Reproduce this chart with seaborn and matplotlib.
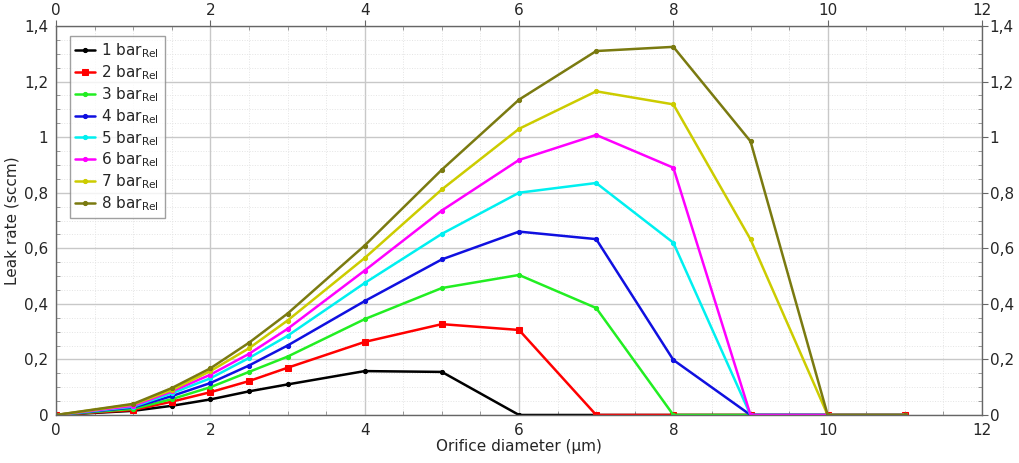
import numpy as np
import pandas as pd
import matplotlib
matplotlib.use("Agg")
import matplotlib.pyplot as plt
from matplotlib.ticker import MultipleLocator, FuncFormatter
import seaborn as sns

diameter = [0, 1, 1.5, 2, 2.5, 3, 4, 5, 6, 7, 8, 9, 10, 11]
bar1 = [0, 0.015, 0.033, 0.056, 0.085, 0.110, 0.158, 0.155, 0, 0, 0, 0, 0, 0]
bar2 = [0, 0.018, 0.048, 0.082, 0.122, 0.170, 0.263, 0.327, 0.306, 0, 0, 0, 0, 0]
bar3 = [0, 0.022, 0.057, 0.100, 0.155, 0.210, 0.345, 0.457, 0.504, 0.385, 0, 0, 0, 0]
bar4 = [0, 0.027, 0.068, 0.115, 0.178, 0.250, 0.410, 0.560, 0.660, 0.633, 0.198, 0, 0, 0]
bar5 = [0, 0.030, 0.078, 0.132, 0.205, 0.285, 0.475, 0.652, 0.800, 0.835, 0.620, 0, 0, 0]
bar6 = [0, 0.033, 0.085, 0.145, 0.220, 0.310, 0.520, 0.736, 0.918, 1.008, 0.890, 0, 0, 0]
bar7 = [0, 0.038, 0.090, 0.158, 0.240, 0.340, 0.565, 0.812, 1.030, 1.165, 1.118, 0.632, 0, 0]
bar8 = [0, 0.040, 0.097, 0.168, 0.260, 0.365, 0.610, 0.883, 1.135, 1.310, 1.325, 0.985, 0, 0]

series = [bar1, bar2, bar3, bar4, bar5, bar6, bar7, bar8]
labels = [f"{i} bar$_{{\\mathrm{{Rel}}}}$" for i in range(1, 9)]
colors = ["#000000", "#ff0000", "#22ee22", "#1010e0", "#00f0f0", "#ff00ff", "#cccc00", "#7a7a10"]
markers = ["o", "s", "o", "o", "o", "o", "o", "o"]

sns.set_style("white")
plt.rcParams['font.family'] = ['DejaVu Sans']
plt.rcParams['mathtext.fontset'] = 'dejavusans'

fig = plt.figure(figsize=(10.19, 4.63), dpi=100)
ax = fig.add_axes([0.055, 0.1037, 0.9087, 0.8401])

for vals, lab, col, mk in zip(series, labels, colors, markers):
    df = pd.DataFrame({"x": diameter, "y": vals})
    sns.lineplot(data=df, x="x", y="y", ax=ax, color=col, label=lab,
                 marker=mk, markersize=4 if mk == "s" else 3,
                 markeredgecolor=col, linewidth=1.8)

ax.set_xlim(0, 12)
ax.set_ylim(0, 1.4)

def fmt(v, pos):
    s = f"{v:.1f}".rstrip("0").rstrip(".")
    return s.replace(".", ",")

ax.xaxis.set_major_locator(MultipleLocator(2))
ax.xaxis.set_minor_locator(MultipleLocator(0.5))
ax.yaxis.set_major_locator(MultipleLocator(0.2))
ax.yaxis.set_minor_locator(MultipleLocator(0.05))
ax.yaxis.set_major_formatter(FuncFormatter(fmt))
ax.xaxis.set_major_formatter(FuncFormatter(fmt))

ax.grid(True, which="major", color="#c8c8c8", linewidth=1.0, linestyle="-")
ax.grid(True, which="minor", color="#e4e4e4", linewidth=0.7, linestyle=":")
ax.set_axisbelow(True)

ax.tick_params(axis="both", which="major", direction="out", length=4, labelsize=11,
               pad=1.5, color="#666666", top=True, right=True, labeltop=True, labelright=True)
ax.tick_params(axis="both", which="minor", direction="in", length=3,
               color="#888888", top=True, right=True, bottom=True, left=True)
for sp in ax.spines.values():
    sp.set_color("#666666")
    sp.set_linewidth(1.0)

ax.set_xlabel("Orifice diameter (µm)", fontsize=11, labelpad=1)
ax.set_ylabel("Leak rate (sccm)", fontsize=11, labelpad=3)

leg = ax.legend(loc="upper left", bbox_to_anchor=(0.01, 0.985), fontsize=11,
                frameon=True, fancybox=False, edgecolor="#888888",
                handlelength=1.3, handletextpad=0.4, labelspacing=0.2,
                borderpad=0.35, borderaxespad=0.3)
leg.get_frame().set_linewidth(1.0)

fig.savefig("out.png", dpi=100)
